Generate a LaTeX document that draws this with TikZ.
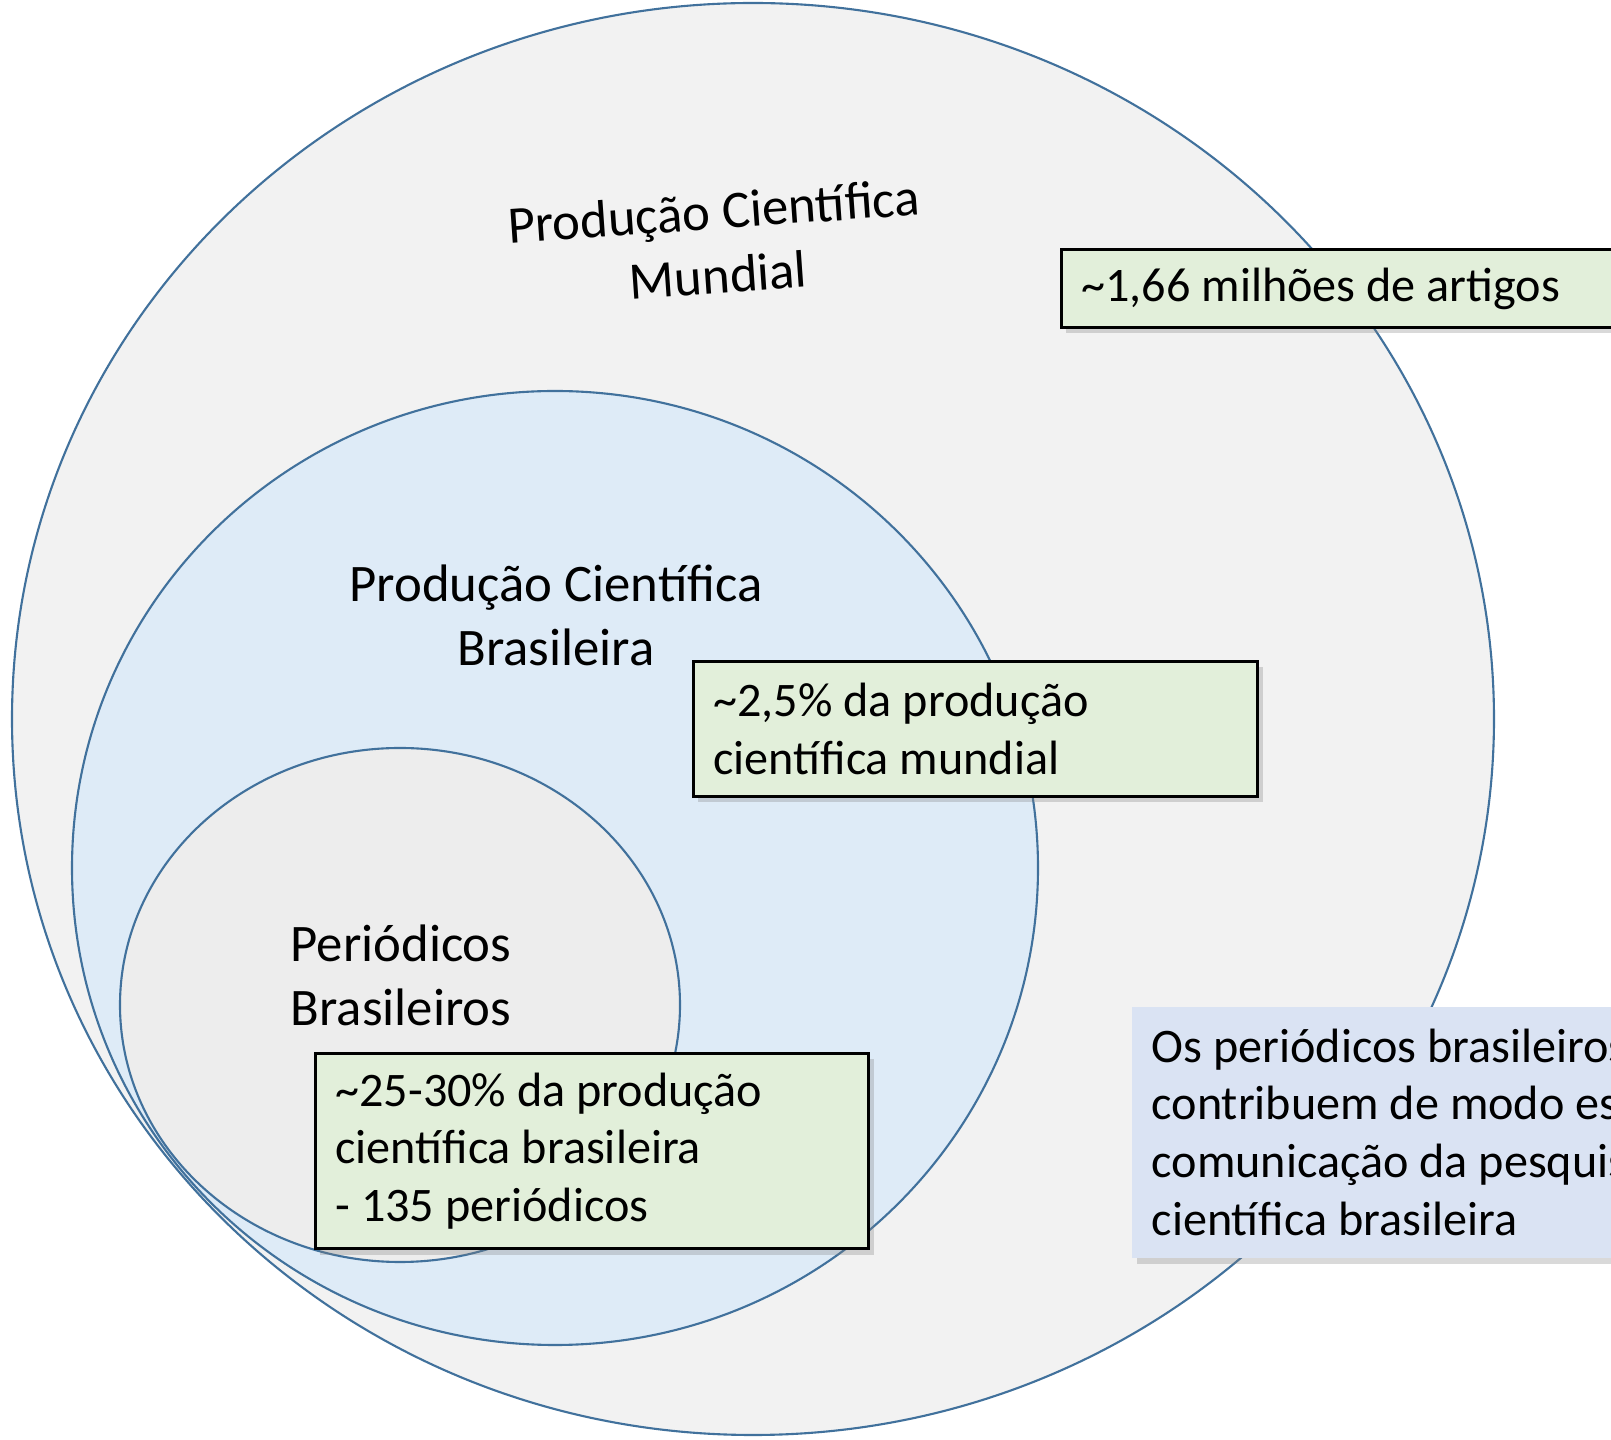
\documentclass[tikz,border=0pt]{standalone}
\usepackage{fontspec}
\setmainfont{Carlito}
\usetikzlibrary{shadows}
\definecolor{contorno}{HTML}{41719C}
\definecolor{cinzaclaro}{HTML}{F2F2F2}
\definecolor{azulclaro}{HTML}{DEEBF7}
\definecolor{cinzamedio}{HTML}{EDEDED}
\definecolor{verdeclaro}{HTML}{E2EFDA}
\definecolor{azulnota}{HTML}{DAE3F3}
\tikzstyle{conjunto} = [draw=contorno, line width=0.6pt]
\tikzstyle{rotulo} = [align=center, inner sep=0pt, font=\fontsize{15}{18.2}\selectfont]
\tikzstyle{caixa} = [rectangle, anchor=north west, draw=black, line width=0.8pt, fill=verdeclaro, align=flush left, inner xsep=0.2cm, font=\fontsize{13.7}{16.4}\selectfont, drop shadow={shadow xshift=0.05cm, shadow yshift=-0.06cm, opacity=0.3}]
\tikzstyle{nota} = [rectangle, anchor=north west, fill=azulnota, align=flush left, inner xsep=0.2cm, font=\fontsize{13.7}{16.4}\selectfont, drop shadow={shadow xshift=0.05cm, shadow yshift=-0.06cm, opacity=0.3}]

\begin{document}
\begin{tikzpicture}[x=0.01cm, y=-0.01cm]

        \useasboundingbox (0,0) rectangle (1611,1440);
        \clip (0,0) rectangle (1611,1440);

        % Conjuntos (elipses)
        \draw [conjunto, fill=cinzaclaro] (753,719) ellipse (741 and 716);
        \draw [conjunto, fill=azulclaro] (555,868) ellipse (483 and 477);
        \draw [conjunto, fill=cinzamedio] (400,1005) ellipse (280 and 257);

        % Rótulos dos conjuntos
        \node (mundial) [rotulo, rotate=4] at (716,243) {Produção Científica\\Mundial};
        \node (brasil) [rotulo] at (556,615) {Produção Científica\\Brasileira};
        \node (periodicos) [rotulo] at (401,975) {Periódicos\\Brasileiros};

        % Caixas com os valores
        \node (artigos) [caixa, minimum height=0.78cm, text width=6cm] at (1060,248) {\textasciitilde1,66 milhões de artigos};
        \node (parcela) [caixa, minimum height=1.35cm, text width=5.24cm] at (692,660) {\textasciitilde2,5\% da produção\\científica mundial};
        \node (revistas) [caixa, minimum height=1.95cm, text width=5.13cm] at (314,1052) {\textasciitilde25-30\% da produção\\científica brasileira\\- 135 periódicos};

        % Nota lateral (cortada na borda direita)
        \node (nota) [nota, minimum height=2.51cm, text width=9cm] at (1131,1006) {Os periódicos brasileiros\\contribuem de modo essencial\\comunicação da pesquisa\\científica brasileira};

    \end{tikzpicture}
\end{document}
